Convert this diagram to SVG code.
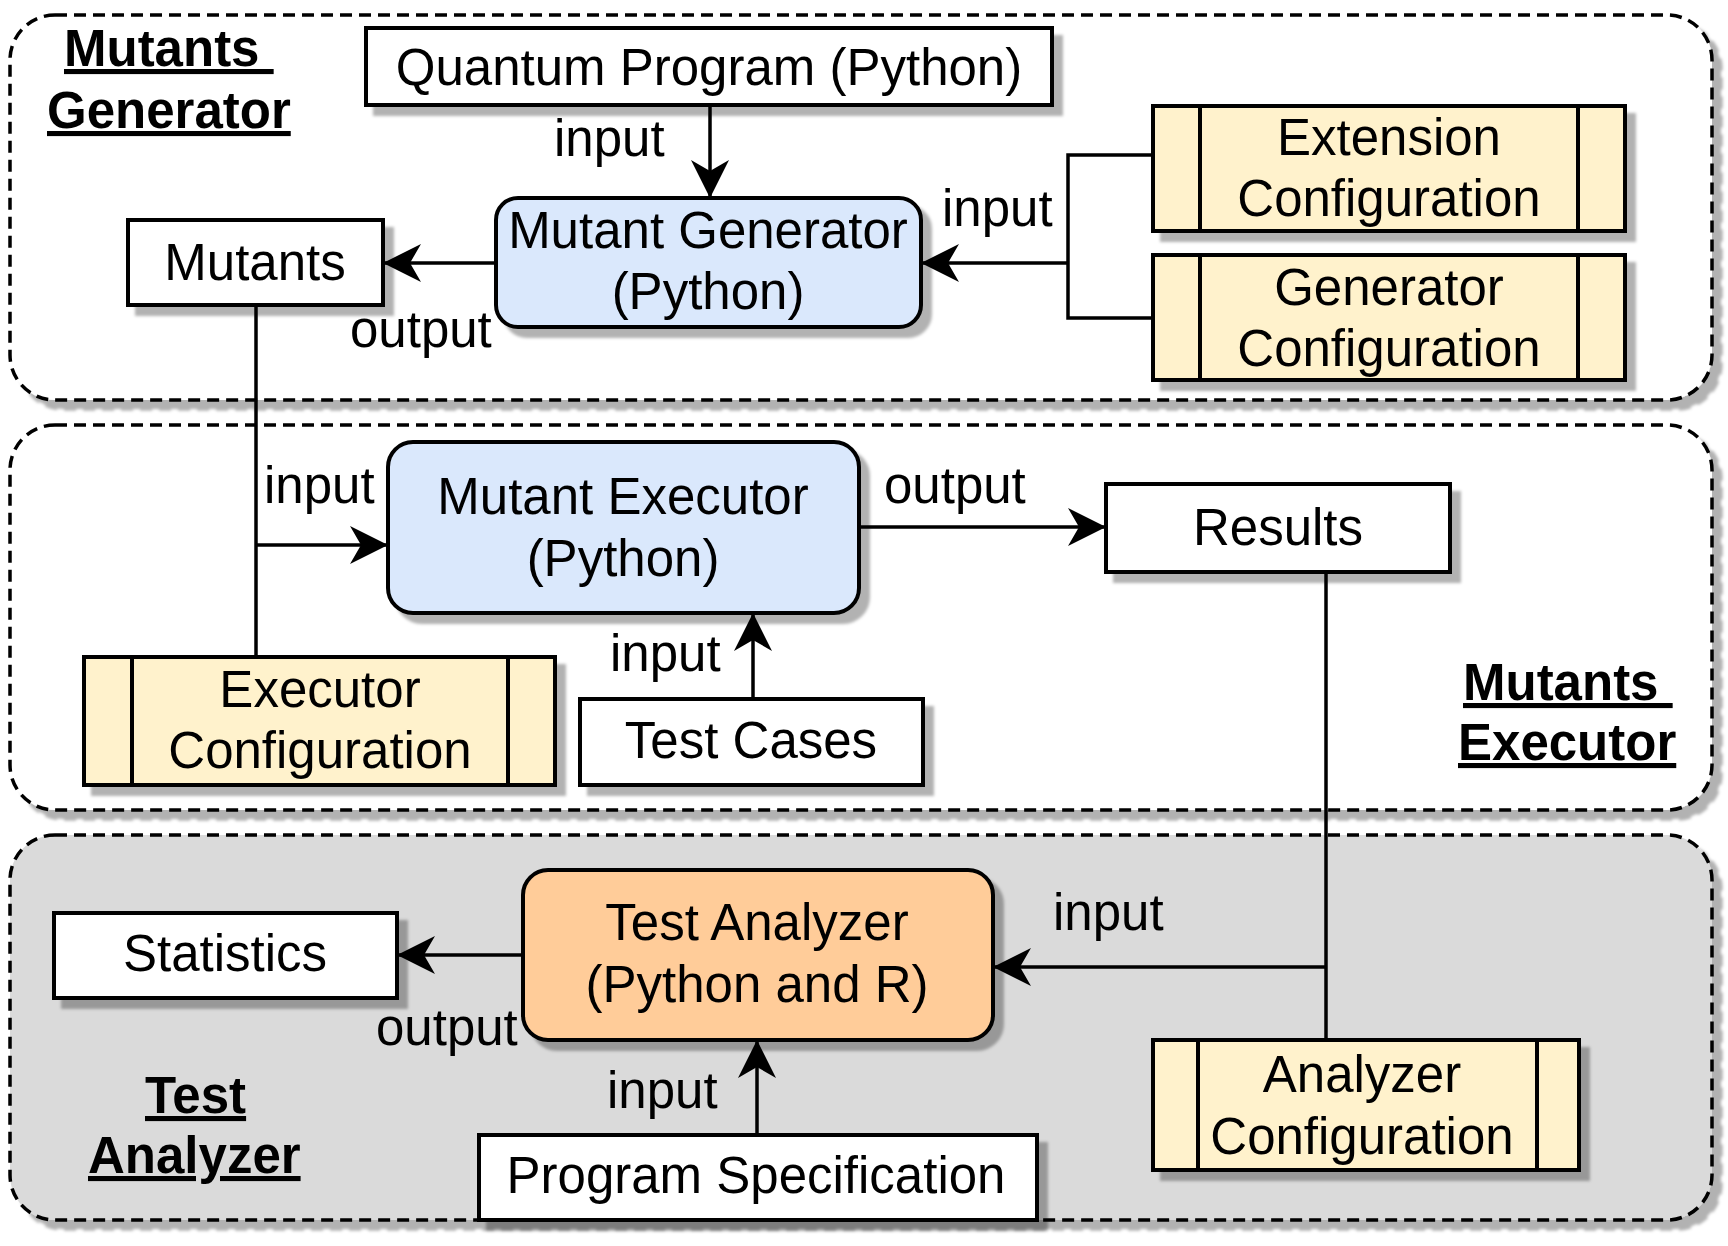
<svg xmlns="http://www.w3.org/2000/svg" width="1728" height="1246" viewBox="0 0 1728 1246">
<style>
  text { font-family: "Liberation Sans", Arial, sans-serif; font-size: 51px; fill: #000; }
  .c { text-anchor: middle; }
  .t { font-weight: bold; text-decoration: underline; white-space: pre; }
  .grp { stroke: #000; stroke-width: 3.5; stroke-dasharray: 12 7; filter: url(#sh); }
  .box { stroke: #000; stroke-width: 4; filter: url(#sh); }
  .plain { fill: #fff; }
  .blue { fill: #dae8fc; }
  .yel { fill: #fff2cc; }
  .org { fill: #ffcc99; }
  .bar { stroke: #000; stroke-width: 4; }
  .con { fill: none; stroke: #000; stroke-width: 3.5; }
  .arr { marker-end: url(#ah); }
</style>
<defs>
  <filter id="sh" x="-5%" y="-5%" width="115%" height="125%">
    <feDropShadow dx="9" dy="9" stdDeviation="1.5" flood-color="#000" flood-opacity="0.3"/>
  </filter>
  <marker id="ah" markerUnits="userSpaceOnUse" viewBox="-2 -21 42 42" markerWidth="42" markerHeight="42" refX="38" refY="0" orient="auto">
    <path d="M38,0 L0,-19 L11,0 L0,19 Z" fill="#000"/>
  </marker>
</defs>

<g id="group-generator">
  <rect class="grp" x="10" y="15" width="1702" height="385" rx="45" fill="#fff"/>
  <text class="t" x="64" y="66">Mutants </text>
  <text class="t" x="47" y="128">Generator</text>
</g>
<g id="group-executor">
  <rect class="grp" x="10" y="425" width="1702" height="385" rx="45" fill="#fff"/>
  <text class="t" x="1463" y="700">Mutants </text>
  <text class="t" x="1458" y="760">Executor</text>
</g>
<g id="group-analyzer">
  <rect class="grp" x="10" y="835" width="1702" height="385" rx="45" fill="#dadada"/>
  <text class="t" x="145" y="1113">Test</text>
  <text class="t" x="88" y="1173">Analyzer</text>
</g>

<g id="connectors">
  <path class="con arr" d="M710,105 V198"/>
  <path class="con arr" d="M496,263 H383"/>
  <path class="con" d="M1153,155 H1068 V318 H1153"/>
  <path class="con arr" d="M1068,263 H921"/>
  <path class="con" d="M256,305 V657"/>
  <path class="con arr" d="M256,545 H388"/>
  <path class="con arr" d="M859,527 H1106"/>
  <path class="con arr" d="M753,699 V613"/>
  <path class="con" d="M1326,572 V1040"/>
  <path class="con arr" d="M1326,967 H993"/>
  <path class="con arr" d="M523,955 H397"/>
  <path class="con arr" d="M757,1135 V1040"/>
  <text x="554" y="156">input</text>
  <text x="942" y="226">input</text>
  <text x="350" y="347">output</text>
  <text x="264" y="503">input</text>
  <text x="884" y="503">output</text>
  <text x="610" y="671">input</text>
  <text x="1053" y="930">input</text>
  <text x="376" y="1045">output</text>
  <text x="607" y="1108">input</text>
</g>

<g id="quantum-program">
  <rect class="box plain" x="366" y="28" width="686" height="77"/>
  <text class="c" x="709" y="85">Quantum Program (Python)</text>
</g>
<g id="mutant-generator">
  <rect class="box blue" x="496" y="198" width="425" height="129" rx="22"/>
  <text class="c" x="708" y="248">Mutant Generator</text>
  <text class="c" x="708" y="309">(Python)</text>
</g>
<g id="mutants">
  <rect class="box plain" x="128" y="220" width="255" height="85"/>
  <text class="c" x="255" y="280">Mutants</text>
</g>
<g id="extension-configuration">
  <rect class="box yel" x="1153" y="106" width="472" height="125"/>
  <line class="bar" x1="1200" y1="106" x2="1200" y2="231"/>
  <line class="bar" x1="1578" y1="106" x2="1578" y2="231"/>
  <text class="c" x="1389" y="155">Extension</text>
  <text class="c" x="1389" y="216">Configuration</text>
</g>
<g id="generator-configuration">
  <rect class="box yel" x="1153" y="255" width="472" height="125"/>
  <line class="bar" x1="1200" y1="255" x2="1200" y2="380"/>
  <line class="bar" x1="1578" y1="255" x2="1578" y2="380"/>
  <text class="c" x="1389" y="305">Generator</text>
  <text class="c" x="1389" y="366">Configuration</text>
</g>
<g id="mutant-executor">
  <rect class="box blue" x="388" y="442" width="471" height="171" rx="25"/>
  <text class="c" x="623" y="514">Mutant Executor</text>
  <text class="c" x="623" y="576">(Python)</text>
</g>
<g id="results">
  <rect class="box plain" x="1106" y="484" width="344" height="88"/>
  <text class="c" x="1278" y="545">Results</text>
</g>
<g id="executor-configuration">
  <rect class="box yel" x="84" y="657" width="471" height="128"/>
  <line class="bar" x1="132" y1="657" x2="132" y2="785"/>
  <line class="bar" x1="508" y1="657" x2="508" y2="785"/>
  <text class="c" x="320" y="707">Executor</text>
  <text class="c" x="320" y="768">Configuration</text>
</g>
<g id="test-cases">
  <rect class="box plain" x="580" y="699" width="343" height="86"/>
  <text class="c" x="751" y="758">Test Cases</text>
</g>
<g id="statistics">
  <rect class="box plain" x="54" y="913" width="343" height="85"/>
  <text class="c" x="225" y="971">Statistics</text>
</g>
<g id="test-analyzer">
  <rect class="box org" x="523" y="870" width="470" height="170" rx="25"/>
  <text class="c" x="757" y="940">Test Analyzer</text>
  <text class="c" x="757" y="1002">(Python and R)</text>
</g>
<g id="program-specification">
  <rect class="box plain" x="479" y="1135" width="558" height="85"/>
  <text class="c" x="756" y="1193">Program Specification</text>
</g>
<g id="analyzer-configuration">
  <rect class="box yel" x="1153" y="1040" width="426" height="130"/>
  <line class="bar" x1="1198" y1="1040" x2="1198" y2="1170"/>
  <line class="bar" x1="1537" y1="1040" x2="1537" y2="1170"/>
  <text class="c" x="1362" y="1092">Analyzer</text>
  <text class="c" x="1362" y="1154">Configuration</text>
</g>
</svg>
